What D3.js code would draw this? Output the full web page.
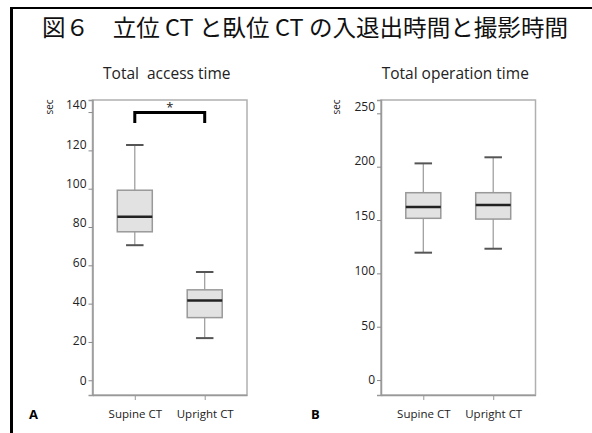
<!doctype html>
<html lang="ja">
<head>
<meta charset="utf-8">
<title>図6 入退出時間と撮影時間</title>
<script src="https://d3js.org/d3.v7.min.js"></script>
<style>
  body { margin: 0; background: #fff; }
  svg { display: block; }
</style>
</head>
<body>
<svg id="fig" width="592" height="433"></svg>
<script>
// categories
var groups = ["Supine CT", "Upright CT"];

// A: total access time (sec)
var accessMin    = [70.5, 22];
var accessQ1     = [77.5, 32.7];
var accessMedian = [85.3, 41.6];
var accessQ3     = [99.2, 47.2];
var accessMax    = [122.8, 56.5];
var accessTicks  = [0, 20, 40, 60, 80, 100, 120, 140];

// B: total operation time (sec)
var opMin    = [119.4, 123.1];
var opQ1     = [151.6, 150.9];
var opMedian = [162.2, 164.1];
var opQ3     = [175.6, 175.6];
var opMax    = [203.1, 208.8];
var opTicks  = [0, 50, 100, 150, 200, 250];

var svg = d3.select("#fig");
var font = "'Open Sans', 'Liberation Sans', sans-serif";

// outer frame (left + top only visible)
svg.append("line").attr("x1", 11.5).attr("x2", 11.5).attr("y1", 7).attr("y2", 433)
  .attr("stroke", "#000").attr("stroke-width", 3);
svg.append("line").attr("x1", 10).attr("x2", 592).attr("y1", 8).attr("y2", 8)
  .attr("stroke", "#000").attr("stroke-width", 2);

svg.append("text")
  .attr("x", 42).attr("y", 36)
  .attr("font-family", "'Noto Sans CJK JP', sans-serif")
  .attr("font-size", 23)
  .attr("textLength", 526)
  .attr("lengthAdjust", "spacingAndGlyphs")
  .attr("fill", "#111")
  .text("図６　立位 CT と臥位 CT の入退出時間と撮影時間");

function panel(opt) {
  var x = d3.scalePoint().domain(groups).range([opt.left, opt.right]).padding(0.605);
  var y = d3.scaleLinear().domain(opt.domain).range([opt.bottom, opt.top]);
  // the tick labels drift slightly upward from their ticks in the original
  var top = opt.ticks[opt.ticks.length - 1];
  var yLab = d3.scaleLinear().domain([0, top]).range([y(0), y(top) - 7]);
  var g = svg.append("g");
  var bw = 35;

  // frame
  g.append("rect")
    .attr("x", opt.left).attr("y", opt.top)
    .attr("width", opt.right - opt.left).attr("height", opt.bottom - opt.top)
    .attr("fill", "none").attr("stroke", "#b0b0b0").attr("stroke-width", 1.5);

  // y axis
  var ya = g.append("g")
    .attr("transform", "translate(" + opt.left + ",0)")
    .call(d3.axisLeft(y).tickValues(opt.ticks).tickSize(4).tickPadding(2));
  ya.select(".domain").attr("stroke", "#999").attr("stroke-width", 1.5);
  ya.selectAll(".tick line").attr("stroke", "#888");
  ya.selectAll("text").attr("font-family", font).attr("font-size", 12).attr("fill", "#222")
    .attr("transform", function(d) { return "translate(0," + (yLab(d) - y(d)) + ")"; });

  // x axis
  var xa = g.append("g")
    .attr("transform", "translate(0," + opt.bottom + ")")
    .call(d3.axisBottom(x).tickSize(5).tickPadding(10).tickSizeOuter(0));
  xa.select(".domain").attr("stroke", "#999").attr("stroke-width", 1.5);
  xa.selectAll(".tick line").attr("stroke", "#999");
  xa.selectAll("text").attr("font-family", font).attr("font-size", 11.5).attr("fill", "#222");

  var idx = d3.range(groups.length);
  // whiskers
  g.selectAll(".wh").data(idx).join("line")
    .attr("x1", function(i) { return x(groups[i]); })
    .attr("x2", function(i) { return x(groups[i]); })
    .attr("y1", function(i) { return y(opt.min[i]); })
    .attr("y2", function(i) { return y(opt.max[i]); })
    .attr("stroke", "#999").attr("stroke-width", 1.2);
  ["min", "max"].forEach(function(k) {
    g.selectAll(".cap" + k).data(idx).join("line")
      .attr("x1", function(i) { return x(groups[i]) - bw / 4; })
      .attr("x2", function(i) { return x(groups[i]) + bw / 4; })
      .attr("y1", function(i) { return y(opt[k][i]); })
      .attr("y2", function(i) { return y(opt[k][i]); })
      .attr("stroke", "#555").attr("stroke-width", 2);
  });
  // boxes
  g.selectAll(".box").data(idx).join("rect")
    .attr("x", function(i) { return x(groups[i]) - bw / 2; })
    .attr("width", bw)
    .attr("y", function(i) { return y(opt.q3[i]); })
    .attr("height", function(i) { return y(opt.q1[i]) - y(opt.q3[i]); })
    .attr("fill", "#e2e2e2").attr("stroke", "#999").attr("stroke-width", 1.5);
  g.selectAll(".med").data(idx).join("line")
    .attr("x1", function(i) { return x(groups[i]) - bw / 2; })
    .attr("x2", function(i) { return x(groups[i]) + bw / 2; })
    .attr("y1", function(i) { return y(opt.median[i]); })
    .attr("y2", function(i) { return y(opt.median[i]); })
    .attr("stroke", "#222").attr("stroke-width", 2.5);

  // titles
  g.append("text")
    .attr("x", (opt.left + opt.right) / 2 - 3).attr("y", 78.5)
    .attr("text-anchor", "middle")
    .attr("font-family", font).attr("font-size", 15.5).attr("fill", "#222")
    .attr("xml:space", "preserve")
    .text(opt.title);
  g.append("text")
    .attr("transform", "translate(" + opt.secX + ",107) rotate(-90)")
    .attr("text-anchor", "middle")
    .attr("font-family", font).attr("font-size", 10).attr("fill", "#222")
    .text("sec");
  g.append("text")
    .attr("x", opt.letterX).attr("y", 419)
    .attr("font-family", font).attr("font-size", 13).attr("font-weight", "bold")
    .attr("fill", "#000")
    .text(opt.letter);
  return { x: x, y: y, g: g };
}

var A = panel({
  left: 92.5, right: 247, top: 100, bottom: 395,
  domain: [-7.7, 146.3], ticks: accessTicks,
  min: accessMin, q1: accessQ1, median: accessMedian, q3: accessQ3, max: accessMax,
  title: "Total  access time", secX: 53, letter: "A", letterX: 29
});
var B = panel({
  left: 381, right: 535.5, top: 100, bottom: 395,
  domain: [-14, 262.5], ticks: opTicks,
  min: opMin, q1: opQ1, median: opMedian, q3: opQ3, max: opMax,
  title: "Total operation time", secX: 340, letter: "B", letterX: 311
});

// significance bracket in A
var bx0 = A.x(groups[0]), bx1 = A.x(groups[1]);
A.g.append("path")
  .attr("d", "M" + bx0 + "," + 123 + "V" + 112.5 + "H" + bx1 + "V" + 123)
  .attr("fill", "none").attr("stroke", "#000").attr("stroke-width", 3);
A.g.append("text")
  .attr("x", (bx0 + bx1) / 2).attr("y", 112)
  .attr("text-anchor", "middle")
  .attr("font-family", font).attr("font-size", 13).attr("fill", "#222")
  .text("*");
</script>
</body>
</html>
